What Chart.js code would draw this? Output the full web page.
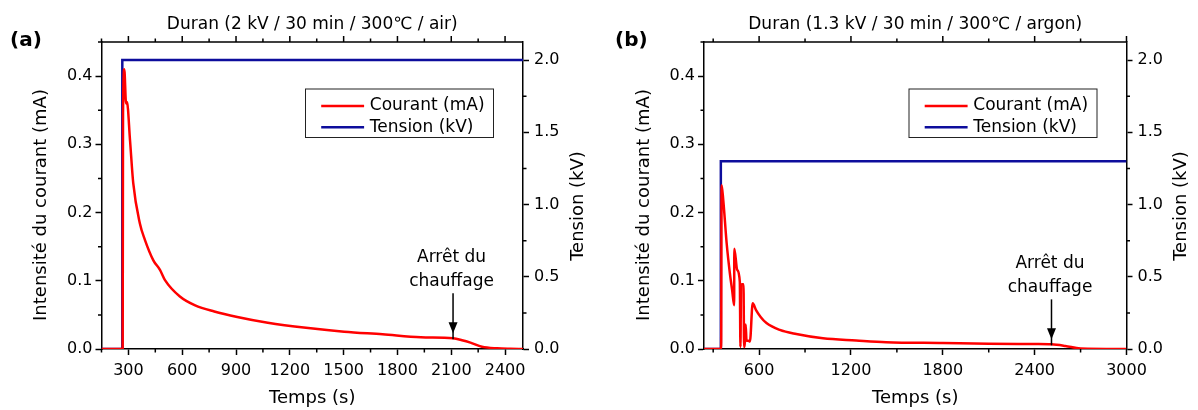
<!DOCTYPE html>
<html>
<head>
<meta charset="utf-8">
<script src="https://cdn.jsdelivr.net/npm/chart.js@4.4.1/dist/chart.umd.min.js"></script>
<style>
html, body { margin: 0; padding: 0; background: #fff; }
#wrap { position: relative; width: 1198px; height: 410px; }
canvas { position: absolute; top: 0; }
</style>
</head>
<body>
<div id="wrap">
  <canvas id="chartA" width="599" height="410" style="left:0"></canvas>
  <canvas id="chartB" width="599" height="410" style="left:599px"></canvas>
</div>
<script>
// (a) air, 2 kV
var timeA = [150, 268, 270, 277, 287, 292, 309, 327, 364, 392, 439, 476, 504, 587, 672, 779, 907, 1077, 1290, 1503, 1717, 1930, 2110, 2160, 2207, 2271, 2356, 2430, 2500];
var courantA = [0, 0, 0.345, 0.41, 0.36, 0.362, 0.306, 0.243, 0.184, 0.16, 0.13, 0.116, 0.101, 0.077, 0.064, 0.055, 0.047, 0.0385, 0.031, 0.0254, 0.0215, 0.0172, 0.0156, 0.0128, 0.0093, 0.0034, 0.001, 0.0003, 0];
var tensionTimeA = [150, 266, 266, 2500];
var tensionA = [0, 0, 2.0, 2.0];
var xTicksA = [300, 600, 900, 1200, 1500, 1800, 2100, 2400];

// (b) argon, 1.3 kV
var timeB = [240, 352, 355, 366, 388, 409, 424, 437, 438, 457, 474, 478, 482, 490, 498, 502, 506, 512, 518, 530, 540, 558, 580, 610, 648, 735, 843, 1017, 1234, 1430, 1800, 2100, 2400, 2510, 2600, 2700, 3000];
var courantB = [0, 0, 0.24, 0.218, 0.155, 0.111, 0.086, 0.064, 0.147, 0.116, 0.0985, 0.003, 0.094, 0.095, 0.095, 0.003, 0.003, 0.036, 0.012, 0.012, 0.011, 0.067, 0.057, 0.047, 0.038, 0.028, 0.022, 0.0157, 0.0125, 0.010, 0.0088, 0.0078, 0.0072, 0.0068, 0.0045, 0.0008, 0];
var tensionTimeB = [240, 350, 350, 3000];
var tensionB = [0, 0, 1.3, 1.3];
var xTicksB = [600, 1200, 1800, 2400, 3000];

// y axis ticks (same for both panels)
var courantTicks = [0, 0.1, 0.2, 0.3, 0.4];
var tensionTicks = [0, 0.5, 1.0, 1.5, 2.0];

// "Arrêt du chauffage" marks [time, current]
var arretA = [2110, 0.0156];
var arretB = [2510, 0.0068];

var seriesLabels = ["Courant (mA)", "Tension (kV)"];

Chart.defaults.font.family = "'DejaVu Sans', sans-serif";
Chart.defaults.color = "#000";

function pts(xs, ys) {
    return xs.map(function (x, i) { return { x: x, y: ys[i] }; });
}

function fixTicks(values) {
    return function (s) {
        s.ticks = values.map(function (v) { return { value: v }; });
    };
}

var decorPlugin = {
    id: "decor",
    afterDraw: function (chart, args, o) {
        var ctx = chart.ctx, a = chart.chartArea;
        var xs = chart.scales.x, ys = chart.scales.y, y2 = chart.scales.y2;
        var k, p;
        ctx.save();
        ctx.strokeStyle = "#000";
        ctx.fillStyle = "#000";
        ctx.lineWidth = 1.5;

        // top frame and ticks, minor ticks
        ctx.beginPath();
        ctx.moveTo(a.left, a.top);
        ctx.lineTo(a.right, a.top);
        var hx = o.xStep / 2;
        for (k = Math.ceil(xs.min / hx - 1e-6); k * hx <= xs.max + 1e-6; k++) {
            p = xs.getPixelForValue(k * hx);
            ctx.moveTo(p, a.top);
            ctx.lineTo(p, a.top - (k % 2 === 0 ? 6 : 3.5));
            if (k % 2 !== 0) {
                ctx.moveTo(p, a.bottom);
                ctx.lineTo(p, a.bottom + 3.5);
            }
        }
        for (k = 1; k * 0.05 <= 0.45 + 1e-6; k += 2) {
            p = ys.getPixelForValue(k * 0.05);
            ctx.moveTo(a.left, p);
            ctx.lineTo(a.left - 3.5, p);
        }
        for (k = 1; k * 0.25 <= y2.max + 1e-6; k += 2) {
            p = y2.getPixelForValue(k * 0.25);
            ctx.moveTo(a.right, p);
            ctx.lineTo(a.right + 3.5, p);
        }
        ctx.stroke();

        // titles
        ctx.textAlign = "center";
        ctx.textBaseline = "alphabetic";
        ctx.font = "17px 'DejaVu Sans'";
        ctx.fillText(o.title, (a.left + a.right) / 2, 29);
        ctx.textAlign = "left";
        ctx.font = "bold 20px 'DejaVu Sans'";
        ctx.fillText(o.panel, o.panelX, 46);

        // vertical axis titles
        ctx.font = "18px 'DejaVu Sans'";
        ctx.textAlign = "center";
        ctx.textBaseline = "middle";
        ctx.save();
        ctx.translate(a.left - 60, 205);
        ctx.rotate(-Math.PI / 2);
        ctx.fillText("Intensité du courant (mA)", 0, 0);
        ctx.restore();
        ctx.save();
        ctx.translate(a.right + 55, 206);
        ctx.rotate(-Math.PI / 2);
        ctx.fillText("Tension (kV)", 0, 0);
        ctx.restore();

        // legend
        var bw = 188, bh = 48.5, bx = a.right - 29.5 - bw, by = a.top + 47;
        ctx.fillStyle = "#fff";
        ctx.fillRect(bx, by, bw, bh);
        ctx.lineWidth = 1;
        ctx.strokeStyle = "#222";
        ctx.strokeRect(bx, by, bw, bh);
        ctx.font = "17px 'DejaVu Sans'";
        ctx.textAlign = "left";
        chart.data.datasets.forEach(function (ds, i) {
            var yy = by + 17 + i * 21.3;
            ctx.strokeStyle = ds.borderColor;
            ctx.lineWidth = 2.5;
            ctx.beginPath();
            ctx.moveTo(bx + 15.7, yy);
            ctx.lineTo(bx + 58.6, yy);
            ctx.stroke();
            ctx.fillStyle = "#000";
            ctx.fillText(ds.label, bx + 64.3, yy);
        });

        // arrow "Arrêt du chauffage"
        var ax = xs.getPixelForValue(o.arret[0]);
        var ay = ys.getPixelForValue(o.arret[1]) - 5;
        ctx.strokeStyle = "#000";
        ctx.fillStyle = "#000";
        ctx.lineWidth = 1.5;
        ctx.beginPath();
        ctx.moveTo(ax, ay - 40);
        ctx.lineTo(ax, ay + 6);
        ctx.stroke();
        ctx.beginPath();
        ctx.moveTo(ax - 4.5, ay - 11);
        ctx.lineTo(ax + 4.5, ay - 11);
        ctx.lineTo(ax, ay);
        ctx.closePath();
        ctx.fill();
        ctx.font = "17px 'DejaVu Sans'";
        ctx.textAlign = "center";
        ctx.fillText("Arrêt du", ax - 1.5, ay - 76);
        ctx.fillText("chauffage", ax - 1.5, ay - 52);
        ctx.restore();
    }
};

function makeChart(id, c) {
    var axisGrid = { drawOnChartArea: false, tickLength: 6, tickWidth: 1.5, tickColor: "#000" };
    var axisBorder = { color: "#000", width: 1.5 };
    var oneDecimal = function (v) { return Number(v).toFixed(1); };
    return new Chart(document.getElementById(id).getContext("2d"), {
        type: "line",
        data: {
            datasets: [
                {
                    label: seriesLabels[0],
                    data: pts(c.time, c.courant),
                    yAxisID: "y",
                    borderColor: "#ff0000",
                    borderWidth: 2.5,
                    pointRadius: 0,
                    cubicInterpolationMode: "monotone",
                    order: 0
                },
                {
                    label: seriesLabels[1],
                    data: pts(c.tensionTime, c.tension),
                    yAxisID: "y2",
                    borderColor: "#0d0d9c",
                    borderWidth: 2.5,
                    pointRadius: 0,
                    tension: 0,
                    order: 1
                }
            ]
        },
        options: {
            responsive: false,
            animation: false,
            events: [],
            layout: { padding: { top: 42, left: 0, right: 0, bottom: 0 } },
            scales: {
                x: {
                    type: "linear",
                    position: "bottom",
                    min: c.xMin,
                    max: c.xMax,
                    afterBuildTicks: fixTicks(c.xTicks),
                    ticks: { autoSkip: false, maxRotation: 0, padding: 6, font: { size: 16 },
                        callback: function (v) { return String(v); } },
                    grid: axisGrid,
                    border: axisBorder,
                    title: { display: true, text: "Temps (s)", font: { size: 18 }, padding: { top: 0, bottom: 1 } },
                    afterFit: function (s) { s.height = 61; }
                },
                y: {
                    position: "left",
                    min: 0,
                    max: 0.45,
                    afterBuildTicks: fixTicks(courantTicks),
                    ticks: { padding: 3, font: { size: 16 }, callback: oneDecimal },
                    grid: axisGrid,
                    border: axisBorder,
                    afterFit: function (s) { s.width = c.leftW; }
                },
                y2: {
                    position: "right",
                    min: 0,
                    max: 2.125,
                    afterBuildTicks: fixTicks(tensionTicks),
                    ticks: { padding: 5, font: { size: 16 }, callback: oneDecimal },
                    grid: axisGrid,
                    border: axisBorder,
                    afterFit: function (s) { s.width = c.rightW; }
                }
            },
            plugins: {
                legend: { display: false },
                tooltip: { enabled: false },
                decor: { title: c.title, panel: c.panel, panelX: c.panelX, xStep: c.xStep, arret: c.arret }
            }
        },
        plugins: [decorPlugin]
    });
}

document.addEventListener("DOMContentLoaded", function () {
    makeChart("chartA", {
        time: timeA, courant: courantA, tensionTime: tensionTimeA, tension: tensionA, xTicks: xTicksA,
        xMin: 150, xMax: 2500, xStep: 300, leftW: 101.5, rightW: 76,
        title: "Duran (2 kV / 30 min / 300\u2103 / air)", panel: "(a)", panelX: 10, arret: arretA
    });
    makeChart("chartB", {
        time: timeB, courant: courantB, tensionTime: tensionTimeB, tension: tensionB, xTicks: xTicksB,
        xMin: 240, xMax: 3000, xStep: 600, leftW: 105, rightW: 71.5,
        title: "Duran (1.3 kV / 30 min / 300\u2103 / argon)", panel: "(b)", panelX: 16, arret: arretB
    });
});
</script>
</body>
</html>
